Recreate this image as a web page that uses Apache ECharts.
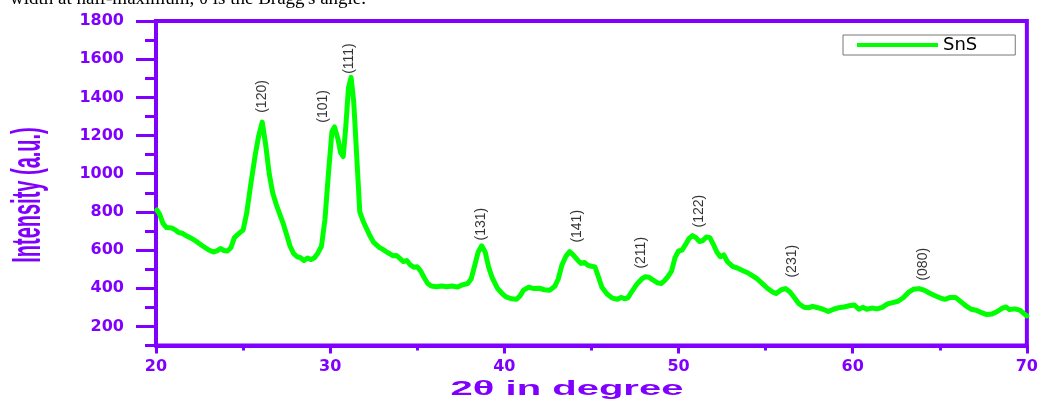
<!DOCTYPE html>
<html>
<head>
<meta charset="utf-8">
<title>SnS XRD</title>
<script src="https://cdn.jsdelivr.net/npm/echarts@6.0.0/dist/echarts.min.js"></script>
<style>
  html, body { margin: 0; padding: 0; background: #fff; }
  #chart { width: 1041px; height: 399px; }
</style>
</head>
<body>
<div id="chart"></div>
<script>
// 2theta (deg) and intensity (a.u.)
const twoTheta = [
  20.05, 20.2, 20.4, 20.6, 20.9, 21.1, 21.3, 21.5, 21.8, 22.1, 22.4, 22.7, 23.0, 23.3, 23.5, 23.7, 23.9, 24.1, 24.3, 24.5,
  24.8, 25.0, 25.2, 25.45, 25.7, 25.9, 26.1, 26.3, 26.5, 26.7, 26.9, 27.1, 27.3, 27.5, 27.7, 27.9, 28.1, 28.3, 28.5, 28.7,
  28.9, 29.1, 29.3, 29.5, 29.7, 29.9, 30.1, 30.25, 30.45, 30.6, 30.75, 30.9, 31.05, 31.2, 31.35, 31.55, 31.7, 31.9, 32.1, 32.3,
  32.5, 32.8, 33.0, 33.2, 33.4, 33.6, 33.8, 34.0, 34.2, 34.4, 34.6, 34.8, 35.0, 35.2, 35.4, 35.6, 35.8, 36.1, 36.4, 36.7,
  37.0, 37.3, 37.6, 37.9, 38.1, 38.3, 38.5, 38.7, 38.9, 39.1, 39.3, 39.6, 39.9, 40.1, 40.4, 40.7, 40.9, 41.1, 41.4, 41.7,
  42.0, 42.3, 42.6, 42.9, 43.1, 43.3, 43.55, 43.75, 43.95, 44.2, 44.4, 44.6, 44.8, 45.0, 45.2, 45.4, 45.6, 45.9, 46.2, 46.5,
  46.7, 46.9, 47.1, 47.3, 47.6, 47.9, 48.1, 48.3, 48.5, 48.8, 49.0, 49.2, 49.4, 49.6, 49.8, 50.0, 50.2, 50.4, 50.6, 50.8,
  51.0, 51.2, 51.4, 51.6, 51.8, 52.0, 52.2, 52.4, 52.6, 52.8, 53.1, 53.4, 53.7, 54.0, 54.3, 54.5, 54.8, 55.1, 55.4, 55.6,
  55.9, 56.15, 56.4, 56.7, 56.9, 57.2, 57.5, 57.7, 58.0, 58.3, 58.6, 58.9, 59.2, 59.5, 59.8, 60.1, 60.35, 60.6, 60.8, 61.1,
  61.4, 61.7, 62.0, 62.3, 62.6, 62.9, 63.2, 63.5, 63.8, 64.1, 64.4, 64.7, 65.0, 65.3, 65.6, 65.9, 66.2, 66.5, 66.8, 67.1,
  67.4, 67.7, 68.0, 68.3, 68.6, 68.8, 69.0, 69.3, 69.6, 69.9, 70.0
];
const intensity = [
  810, 790, 740, 718, 716, 706, 692, 688, 672, 658, 640, 620, 602, 590, 596, 608, 598, 595, 612, 665,
  690, 705, 790, 950, 1100, 1200, 1270, 1150, 1000, 900, 840, 790, 740, 680, 620, 582, 565, 560, 545, 558,
  550, 560, 585, 620, 760, 1000, 1220, 1245, 1180, 1110, 1090, 1250, 1450, 1505, 1380, 1050, 800, 750, 710, 672,
  640, 615, 605, 592, 582, 570, 572, 556, 540, 545, 522, 510, 512, 490, 455, 425, 412, 408, 412, 408,
  412, 406, 418, 425, 450, 520, 590, 622, 590, 510, 455, 400, 370, 355, 345, 342, 360, 390, 405, 398,
  400, 392, 390, 410, 450, 520, 570, 592, 575, 548, 530, 535, 520, 515, 512, 460, 405, 370, 348, 342,
  352, 345, 350, 380, 420, 450, 460, 458, 445, 428, 425, 440, 462, 490, 560, 595, 600, 628, 660, 676,
  665, 645, 650, 668, 665, 630, 590, 565, 575, 540, 515, 505, 492, 480, 462, 450, 425, 400, 380, 372,
  392, 398, 380, 345, 320, 300, 298, 305, 298, 290, 278, 290, 298, 302, 308, 312, 290, 300, 290, 296,
  292, 300, 318, 325, 332, 350, 378, 395, 398, 390, 375, 362, 350, 342, 352, 352, 330, 308, 290, 285,
  272, 262, 265, 278, 296, 302, 288, 292, 285, 262, 255
];

// Miller index labels: position of the label foot (2theta, intensity)
const peakNames = ['(120)', '(101)', '(111)', '(131)', '(141)', '(211)', '(122)', '(231)', '(080)'];
const peakTheta = [26.12, 29.61, 31.1, 38.69, 44.2, 47.85, 51.18, 56.5, 64.05];
const peakFoot = [1319, 1267, 1523, 650, 639, 503, 718, 456, 440];

const xTicks = [20, 30, 40, 50, 60, 70];
const yTicks = [200, 400, 600, 800, 1000, 1200, 1400, 1600, 1800];

const purple = '#8000ff';
const green = '#00ff00';

const chart = echarts.init(document.getElementById('chart'));

chart.setOption({
  animation: false,
  backgroundColor: '#fff',
  grid: {
    left: 156,
    top: 21,
    width: 872.5,
    height: 324.5,
    show: true,
    borderColor: purple,
    borderWidth: 4,
    backgroundColor: 'transparent'
  },
  legend: {
    data: ['SnS'],
    left: 843,
    top: 35,
    icon: 'rect',
    itemWidth: 81,
    itemHeight: 4,
    padding: [1, 38, 1, 14],
    borderColor: '#777',
    borderWidth: 1,
    textStyle: { color: '#000', fontSize: 18, fontFamily: 'DejaVu Sans' }
  },
  xAxis: {
    type: 'value',
    min: xTicks[0],
    max: xTicks[xTicks.length - 1],
    interval: 10,
    axisLine: { lineStyle: { color: purple, width: 4 } },
    axisTick: { length: 8, lineStyle: { color: purple, width: 3 } },
    minorTick: { show: true, splitNumber: 2, length: 5, lineStyle: { color: purple, width: 3 } },
    axisLabel: {
      margin: 13,
      color: purple,
      fontFamily: 'DejaVu Sans',
      fontWeight: 'bold',
      fontSize: 16
    },
    splitLine: { show: false }
  },
  yAxis: [
    {
      type: 'value',
      min: 100,
      max: 1800,
      interval: 100,
      axisLine: { show: true, lineStyle: { color: purple, width: 4 } },
      axisTick: { customValues: yTicks, length: 20, lineStyle: { color: purple, width: 3 } },
      axisLabel: {
        customValues: yTicks,
        formatter: v => String(v),
        margin: 32,
        color: purple,
        fontFamily: 'DejaVu Sans',
        fontWeight: 'bold',
        fontSize: 16
      },
      splitLine: { show: false }
    },
    {
      // minor ticks every 100
      type: 'value',
      position: 'left',
      min: 100,
      max: 1800,
      interval: 100,
      axisLine: { show: false },
      axisTick: { show: true, length: 11, lineStyle: { color: purple, width: 3 } },
      axisLabel: { show: false },
      splitLine: { show: false }
    }
  ],
  graphic: [
    {
      type: 'text',
      x: 10,
      y: 9,
      style: {
        text: "width at half-maximum, \u03b8 is the Bragg's angle.",
        font: '19px "Liberation Serif"',
        fill: '#000',
        textVerticalAlign: 'bottom'
      }
    },
    {
      type: 'text',
      x: 567,
      y: 389,
      scaleX: 2.0,
      style: {
        text: '2\u03b8 in degree',
        font: 'bold 20px "Liberation Sans"',
        fill: purple,
        textAlign: 'center',
        textVerticalAlign: 'middle'
      }
    },
    {
      type: 'text',
      x: 29,
      y: 195,
      rotation: Math.PI / 2,
      scaleX: 0.5,
      style: {
        text: 'Intensity (a.u.)',
        font: 'bold 40px "Liberation Sans"',
        fill: purple,
        textAlign: 'center',
        textVerticalAlign: 'middle'
      }
    }
  ],
  series: [
    {
      name: 'SnS',
      type: 'line',
      data: twoTheta.map((t, i) => [t, intensity[i]]),
      symbol: 'none',
      lineStyle: { color: green, width: 5, cap: 'round', join: 'round' },
      itemStyle: { color: green },
      z: 3
    },
    {
      name: 'labels',
      type: 'scatter',
      data: peakTheta.map((t, i) => [t, peakFoot[i], peakNames[i]]),
      symbolSize: 0,
      silent: true,
      label: {
        show: true,
        position: 'inside',
        rotate: 90,
        align: 'left',
        verticalAlign: 'middle',
        formatter: p => p.data[2],
        color: '#000',
        fontFamily: 'Liberation Sans',
        fontSize: 14
      },
      z: 4
    }
  ]
});

window.addEventListener('resize', () => chart.resize());
</script>
</body>
</html>
